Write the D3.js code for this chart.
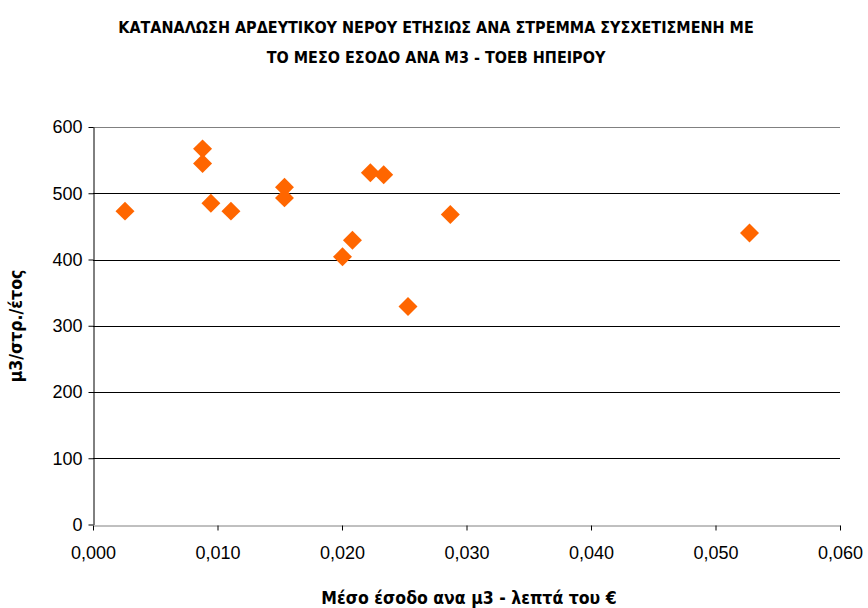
<!DOCTYPE html>
<html>
<head>
<meta charset="utf-8">
<script src="https://cdn.jsdelivr.net/npm/d3@7"></script>
<style>
    body { margin: 0; background: #fff; }
    svg text { font-family: "Liberation Sans Narrow", "DejaVu Sans Condensed", sans-serif; fill: #000; }
</style>
</head>
<body>
<div id="chart"></div>
<script>
// average income per m3 (euro cents) vs irrigation water use per stremma per year
var incomePerM3 = [0.00257, 0.0088, 0.0088, 0.00947, 0.01108, 0.01538, 0.01538, 0.02004, 0.02084, 0.02228, 0.02335, 0.0253, 0.0287, 0.05273];
var waterPerStremma = [473, 567, 545, 485, 473, 509, 493, 404, 429, 531, 528, 329, 468, 440];

var xTicks = [0, 0.01, 0.02, 0.03, 0.04, 0.05, 0.06];
var yTicks = [0, 100, 200, 300, 400, 500, 600];

var titleLines = ["ΚΑΤΑΝΑΛΩΣΗ ΑΡΔΕΥΤΙΚΟΥ ΝΕΡΟΥ ΕΤΗΣΙΩΣ ΑΝΑ ΣΤΡΕΜΜΑ ΣΥΣΧΕΤΙΣΜΕΝΗ ΜΕ", "ΤΟ ΜΕΣΟ ΕΣΟΔΟ ΑΝΑ Μ3 - ΤΟΕΒ ΗΠΕΙΡΟΥ"];
var xTitle = "Μέσο έσοδο ανα μ3 - λεπτά του €";
var yTitle = "μ3/στρ./έτος";

var width = 868, height = 608;
var plot = { left: 93, right: 840, top: 127, bottom: 524.5 };

var svg = d3.select("#chart").append("svg")
    .attr("width", width)
    .attr("height", height);

var x = d3.scaleLinear().domain([0, 0.06]).range([plot.left, plot.right]);
var y = d3.scaleLinear().domain([0, 600]).range([plot.bottom, plot.top]);

var fmt = function (d) { return d3.format(".3f")(d).replace(".", ","); };

// gridlines
svg.append("g")
    .selectAll("line")
    .data(yTicks.filter(function (d) { return d > 0; }))
    .join("line")
    .attr("x1", plot.left)
    .attr("x2", plot.right)
    .attr("y1", function (d) { return Math.round(y(d)) + 0.5; })
    .attr("y2", function (d) { return Math.round(y(d)) + 0.5; })
    .attr("stroke", function (d) { return d == 600 ? "#808080" : "#000"; })
    .attr("stroke-width", 1);

// y axis
var yAxis = svg.append("g")
    .attr("transform", "translate(" + (plot.left + 0.5) + ",0)")
    .call(d3.axisLeft(y).tickValues(yTicks).tickSize(5).tickSizeOuter(0).tickPadding(6));
yAxis.select(".domain").attr("stroke", "#000");
yAxis.selectAll(".tick line").attr("stroke", "#000");
yAxis.selectAll("text").attr("font-size", 18).style("font-family", "inherit");

// x axis
var xAxis = svg.append("g")
    .attr("transform", "translate(0," + (Math.round(plot.bottom) + 0.5) + ")")
    .call(d3.axisBottom(x).tickValues(xTicks).tickFormat(fmt).tickSize(5).tickSizeOuter(0).tickPadding(16));
xAxis.select(".domain").attr("stroke", "#808080");
xAxis.selectAll(".tick line").attr("stroke", "#000");
xAxis.selectAll("text").attr("font-size", 18).style("font-family", "inherit");

// markers
svg.append("g")
    .selectAll("path")
    .data(incomePerM3.map(function (d, i) { return [d, waterPerStremma[i]]; }))
    .join("path")
    .attr("d", d3.symbol().type(d3.symbolSquare).size(180))
    .attr("transform", function (d) { return "translate(" + x(d[0]) + "," + y(d[1]) + ") rotate(45)"; })
    .attr("fill", "#FF6600");

// titles
svg.append("g")
    .selectAll("text")
    .data(titleLines)
    .join("text")
    .attr("x", 436)
    .attr("y", function (d, i) { return 33 + i * 30; })
    .attr("text-anchor", "middle")
    .attr("font-size", 16)
    .attr("font-weight", "bold")
    .text(function (d) { return d; });

svg.append("text")
    .attr("x", 469)
    .attr("y", 604)
    .attr("text-anchor", "middle")
    .attr("font-size", 17.5)
    .attr("font-weight", "bold")
    .text(xTitle);

svg.append("text")
    .attr("transform", "translate(22,326) rotate(-90)")
    .attr("text-anchor", "middle")
    .attr("font-size", 17.5)
    .attr("font-weight", "bold")
    .text(yTitle);
</script>
</body>
</html>
